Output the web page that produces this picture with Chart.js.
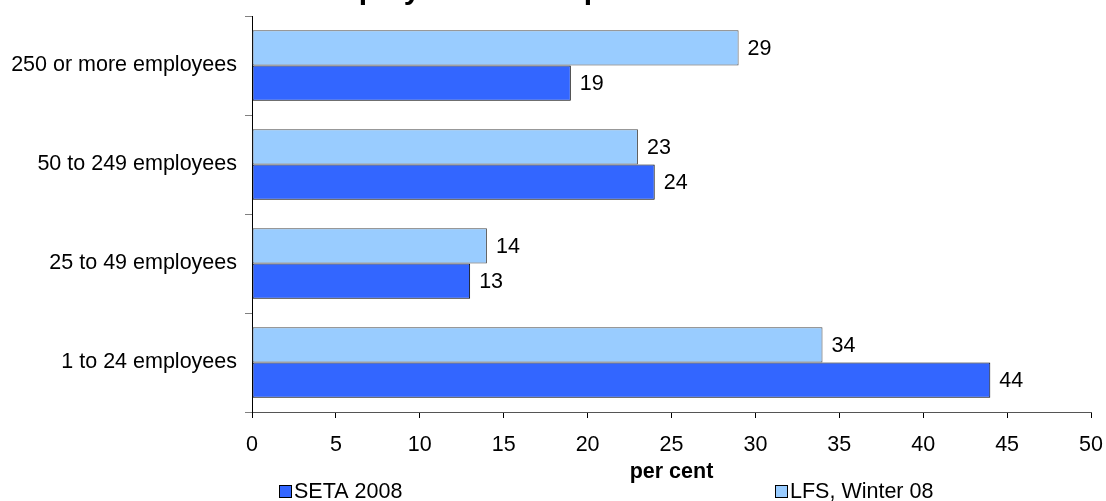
<!DOCTYPE html>
<html>
<head>
<meta charset="utf-8">
<script src="https://cdn.jsdelivr.net/npm/chart.js@4.4.1/dist/chart.umd.min.js"></script>
<style>
  html, body { margin: 0; padding: 0; background: #ffffff; }
  #wrap { position: relative; width: 1106px; height: 501px; }
</style>
</head>
<body>
<div id="wrap"><canvas id="c" width="1106" height="501"></canvas></div>
<script>
// Employer size groups, listed top to bottom
const categories = ['250 or more employees', '50 to 249 employees', '25 to 49 employees', '1 to 24 employees'];
// Share of employees (per cent)
const lfsWinter08 = [29, 23, 14, 34];
const seta2008 = [19, 24, 13, 44];
const xTicks = [0, 5, 10, 15, 20, 25, 30, 35, 40, 45, 50];

const FONT = "'Liberation Sans', Arial, sans-serif";
const FS = 21.5;

// Chart heading, set high so that only its lower strokes fall inside the canvas
const titlePlugin = {
  id: 'clippedTitle',
  afterDraw(chart) {
    const ctx = chart.ctx;
    ctx.save();
    ctx.font = 'bold 30px ' + FONT;
    ctx.fillStyle = '#000';
    ctx.textAlign = 'left';
    ctx.textBaseline = 'alphabetic';
    ctx.fillText('Employer size comparison', 312, -1);
    ctx.restore();
  }
};

// Value written just past the end of every bar
const valueLabels = {
  id: 'valueLabels',
  afterDatasetsDraw(chart) {
    const ctx = chart.ctx;
    ctx.save();
    ctx.font = FS + 'px ' + FONT;
    ctx.fillStyle = '#000';
    ctx.textAlign = 'left';
    ctx.textBaseline = 'middle';
    chart.data.datasets.forEach((ds, i) => {
      chart.getDatasetMeta(i).data.forEach((bar, j) => {
        ctx.fillText(String(ds.data[j]), bar.x + 9, bar.y + 1);
      });
    });
    ctx.restore();
  }
};

// Axis caption and legend along the bottom edge
const footer = {
  id: 'footer',
  afterDraw(chart) {
    const ctx = chart.ctx;
    const area = chart.chartArea;
    ctx.save();
    ctx.fillStyle = '#000';
    ctx.font = 'bold ' + FS + 'px ' + FONT;
    ctx.textAlign = 'center';
    ctx.textBaseline = 'middle';
    ctx.fillText('per cent', (area.left + area.right) / 2, 472);

    const order = [1, 0];
    const xs = [279, 775];
    ctx.font = FS + 'px ' + FONT;
    ctx.textAlign = 'left';
    order.forEach((di, k) => {
      const ds = chart.data.datasets[di];
      ctx.fillStyle = ds.backgroundColor;
      ctx.fillRect(xs[k] + 0.5, 485.5, 12, 12);
      ctx.strokeStyle = '#000';
      ctx.lineWidth = 1;
      ctx.strokeRect(xs[k] + 0.5, 485.5, 12, 12);
      ctx.fillStyle = '#000';
      ctx.fillText(ds.label, xs[k] + 15, 492);
    });
    ctx.restore();
  }
};

new Chart(document.getElementById('c'), {
  type: 'bar',
  data: {
    labels: categories,
    datasets: [
      {
        label: 'LFS, Winter 08',
        data: lfsWinter08,
        backgroundColor: '#99CCFF',
        borderColor: '#4a4a4a',
        borderWidth: 1,
        borderSkipped: false
      },
      {
        label: 'SETA 2008',
        data: seta2008,
        backgroundColor: '#3366FF',
        borderColor: '#000000',
        borderWidth: 1,
        borderSkipped: false
      }
    ]
  },
  options: {
    indexAxis: 'y',
    responsive: false,
    animation: false,
    devicePixelRatio: 1,
    layout: { padding: { top: 16, right: 15, left: 0, bottom: 0 } },
    plugins: {
      legend: { display: false },
      title: { display: false },
      tooltip: { enabled: false }
    },
    datasets: {
      bar: { barPercentage: 1.0, categoryPercentage: 0.71 }
    },
    scales: {
      x: {
        min: 0,
        max: 50,
        afterBuildTicks(scale) { scale.ticks = xTicks.map(v => ({ value: v })); },
        afterFit(scale) { scale.height = 89; scale.paddingLeft = 0; scale.paddingRight = 0; },
        grid: { drawOnChartArea: false, drawTicks: true, tickLength: 6, color: '#000' },
        border: { display: true, color: '#555555', width: 1 },
        ticks: { color: '#000', font: { family: FONT, size: FS }, padding: 14, maxRotation: 0 }
      },
      y: {
        afterFit(scale) { scale.width = 252; scale.paddingTop = 0; scale.paddingBottom = 0; },
        grid: { drawOnChartArea: false, drawTicks: true, tickLength: 7, offset: true, color: '#808080' },
        border: { display: true, color: '#000000', width: 1 },
        ticks: { color: '#000', font: { family: FONT, size: FS }, padding: 8 }
      }
    }
  },
  plugins: [valueLabels, footer, titlePlugin]
});
</script>
</body>
</html>
